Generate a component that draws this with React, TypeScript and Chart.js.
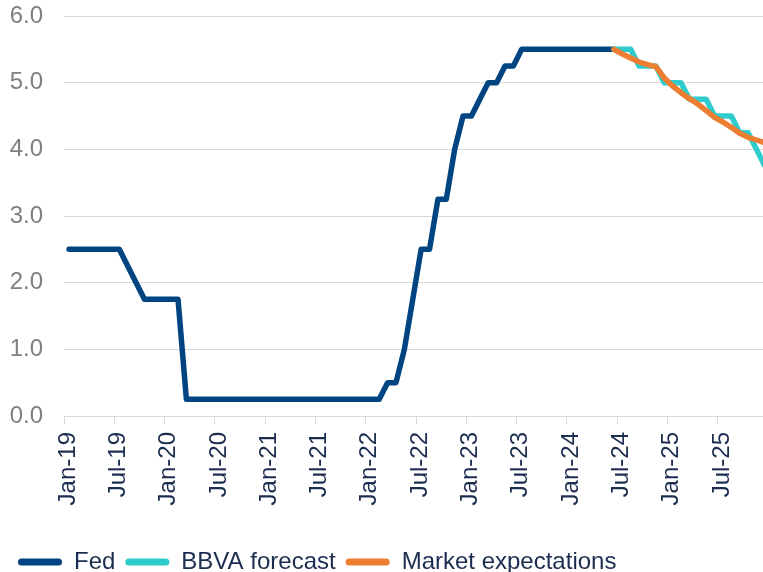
import React, { useEffect, useRef } from "react";
import { Chart, registerables } from "chart.js";

Chart.register(...registerables);

// ---- Data ----
const monthNames = ["Jan", "Feb", "Mar", "Apr", "May", "Jun", "Jul", "Aug", "Sep", "Oct", "Nov", "Dec"];
const years = ["19", "20", "21", "22", "23", "24", "25"];
const monthLabels: string[] = years.flatMap((y) => monthNames.map((m) => `${m}-${y}`));

// Fed funds upper bound, Jan-19 .. Jun-24 (monthly)
const fedRates = [
  2.5, 2.5, 2.5, 2.5, 2.5, 2.5, 2.5, 2.25, 2.0, 1.75, 1.75, 1.75,
  1.75, 1.75, 0.25, 0.25, 0.25, 0.25, 0.25, 0.25, 0.25, 0.25, 0.25, 0.25,
  0.25, 0.25, 0.25, 0.25, 0.25, 0.25, 0.25, 0.25, 0.25, 0.25, 0.25, 0.25,
  0.25, 0.25, 0.5, 0.5, 1.0, 1.75, 2.5, 2.5, 3.25, 3.25, 4.0, 4.5,
  4.5, 4.75, 5.0, 5.0, 5.25, 5.25, 5.5, 5.5, 5.5, 5.5, 5.5, 5.5,
  5.5, 5.5, 5.5, 5.5, 5.5, 5.5,
];

// Forecasts start at Jun-24 (month index 65) and run to Dec-25
const forecastStart = 65;
const bbvaForecast = [
  5.5, 5.5, 5.5, 5.25, 5.25, 5.25, 5.0, 5.0, 5.0, 4.75, 4.75, 4.75,
  4.5, 4.5, 4.5, 4.25, 4.25, 4.0, 3.75,
];
const marketExpectations = [
  5.5, 5.43, 5.37, 5.31, 5.27, 5.24, 5.07, 4.95, 4.85, 4.76, 4.68, 4.58,
  4.48, 4.41, 4.33, 4.24, 4.18, 4.14, 4.1,
];

const tickMonths = [0, 6, 12, 18, 24, 30, 36, 42, 48, 54, 60, 66, 72, 78];
const yTicks = [0, 1, 2, 3, 4, 5, 6];

// ---- Styling ----
const FONT = "'Liberation Sans', Arial, sans-serif";
const NAVY_TEXT = "#1c2d50";
const GRID = "#d9d9d9";
const POINT_SHIFT = 0.6; // points sit part-way through each month

const toPoints = (vals: number[], start: number) =>
  vals.map((y, k) => ({ x: start + k + POINT_SHIFT, y }));

export default function App() {
  const canvasRef = useRef<HTMLCanvasElement | null>(null);

  useEffect(() => {
    const canvas = canvasRef.current;
    if (!canvas) return;
    const common = {
      pointRadius: 0,
      pointHoverRadius: 0,
      tension: 0,
      borderWidth: 5.5,
      borderCapStyle: "round" as const,
      borderJoinStyle: "round" as const,
      fill: false,
    };
    const chart = new Chart(canvas, {
      type: "line",
      data: {
        datasets: [
          {
            ...common,
            label: "Fed",
            data: toPoints(fedRates, 0),
            borderColor: "#004481",
            backgroundColor: "#004481",
            order: 3,
          },
          {
            ...common,
            label: "BBVA forecast",
            data: toPoints(bbvaForecast, forecastStart),
            borderColor: "#2DCCCD",
            backgroundColor: "#2DCCCD",
            order: 2,
          },
          {
            ...common,
            label: "Market expectations",
            data: toPoints(marketExpectations, forecastStart),
            borderColor: "#ED7D31",
            backgroundColor: "#ED7D31",
            order: 1,
          },
        ],
      },
      options: {
        animation: false,
        responsive: false,
        devicePixelRatio: 1,
        layout: { padding: { top: 16, left: 8, right: 0, bottom: 0 } },
        plugins: {
          tooltip: { enabled: false },
          legend: {
            position: "bottom",
            align: "start",
            labels: {
              boxWidth: 44,
              boxHeight: 7,
              padding: 10,
              color: NAVY_TEXT,
              font: { family: FONT, size: 24 },
              useBorderRadius: true,
              borderRadius: 3.5,
              sort: (a: any, b: any) => a.datasetIndex - b.datasetIndex,
              generateLabels: (c: any) =>
                Chart.defaults.plugins.legend.labels
                  .generateLabels(c)
                  .map((it: any) => ({ ...it, lineWidth: 0, fillStyle: it.strokeStyle })),
            },
          },
        },
        scales: {
          x: {
            type: "linear",
            min: 0,
            max: 83.38,
            afterBuildTicks: (s: any) => {
              s.ticks = tickMonths.map((v) => ({ value: v }));
            },
            afterFit: (s: any) => {
              s.height = 124;
              s.paddingLeft = 0;
              s.paddingRight = 0;
            },
            ticks: {
              autoSkip: false,
              minRotation: 90,
              maxRotation: 90,
              padding: 8,
              labelOffset: 4,
              color: NAVY_TEXT,
              font: { family: FONT, size: 24 },
              callback: (v: any) => monthLabels[Math.round(Number(v))] ?? "",
            },
            grid: { drawOnChartArea: false, drawTicks: true, tickLength: 8, color: GRID, lineWidth: 1 },
            border: { color: GRID, width: 1 },
          },
          y: {
            min: 0,
            max: 6,
            afterBuildTicks: (s: any) => {
              s.ticks = yTicks.map((v) => ({ value: v }));
            },
            afterFit: (s: any) => {
              s.width = 56;
              s.paddingTop = 0;
              s.paddingBottom = 0;
            },
            ticks: {
              padding: 21,
              color: "#808080",
              font: { family: FONT, size: 24 },
              callback: (v: any) => Number(v).toFixed(1),
            },
            grid: { color: GRID, lineWidth: 1, drawTicks: false },
            border: { display: false },
          },
        },
      },
    } as any);
    return () => chart.destroy();
  }, []);

  return (
    <div
      style={{
        position: "fixed",
        left: 0,
        top: 0,
        width: 763,
        height: 572,
        overflow: "hidden",
        background: "#ffffff",
      }}
    >
      <canvas ref={canvasRef} width={763} height={584} style={{ display: "block" }} />
    </div>
  );
}
